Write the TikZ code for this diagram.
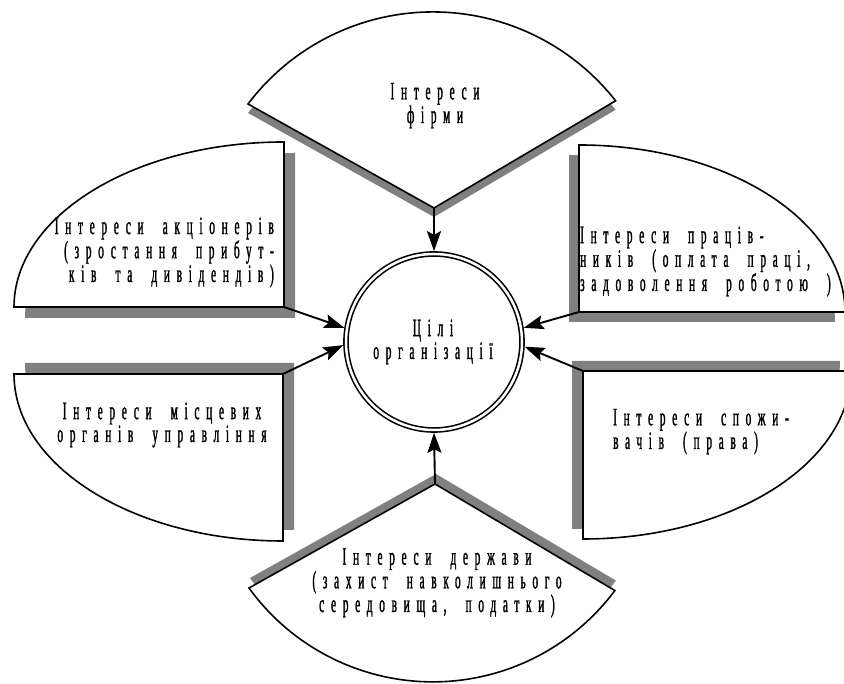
\documentclass[tikz,border=0pt]{standalone}
\usepackage{fontspec}
\newfontfamily\nf[FakeStretch=0.45,LetterSpace=27,WordSpace=2,FakeBold=1.2]{Liberation Serif}
\usetikzlibrary{arrows.meta}
\definecolor{shadowgray}{RGB}{128,128,128}
\begin{document}
\begin{tikzpicture}[x=1pt,y=1pt,
  sbox/.style={draw=black,fill=white,line width=1.6pt,line join=miter},
  shd/.style={fill=shadowgray},
  lbl/.style={font=\nf\fontsize{25}{21.5}\selectfont,inner sep=0pt,anchor=base},
  arr/.style={line width=1.9pt,-{Stealth[length=20pt,width=14pt,inset=3.5pt]}}
]
\useasboundingbox (0,0) rectangle (844,684);
\fill[white] (0,0) rectangle (844,684);

% shadows
\begin{scope}[shift={(0,-9)}]
\fill[shd] (434,476) -- (248,580) arc[start angle=142.9,end angle=38.1,radius=232] -- cycle;
\end{scope}
\begin{scope}[shift={(11,-11)}]
\fill[shd] (284,542) -- (284,377) -- (14,377) arc[start angle=180,end angle=90,x radius=270,y radius=165] -- cycle;
\end{scope}
\begin{scope}[shift={(11,11)}]
\fill[shd] (14,310) -- (283,310) -- (283,143) arc[start angle=270,end angle=180,x radius=269,y radius=167] -- cycle;
\end{scope}
\begin{scope}[shift={(-10,-10)}]
\fill[shd] (579,372) -- (579,539) arc[start angle=90,end angle=0,x radius=266,y radius=167] -- cycle;
\end{scope}
\begin{scope}[shift={(-11,10)}]
\fill[shd] (583,313) -- (583,145) arc[start angle=270,end angle=360,x radius=268,y radius=168] -- cycle;
\end{scope}
\begin{scope}[shift={(1,10)}]
\fill[shd] (435,200) -- (249,96) arc[start angle=215.9,end angle=323.3,radius=227] -- cycle;
\end{scope}

% shapes
\draw[sbox] (434,476) coordinate (tA) -- (248,580) arc[start angle=142.9,end angle=38.1,radius=232] -- cycle;
\draw[sbox] (284,542) -- (284,377) coordinate (tlC) -- (14,377) arc[start angle=180,end angle=90,x radius=270,y radius=165] -- cycle;
\draw[sbox] (14,310) -- (283,310) coordinate (blC) -- (283,143) arc[start angle=270,end angle=180,x radius=269,y radius=167] -- cycle;
\draw[sbox] (579,372) coordinate (trC) -- (579,539) arc[start angle=90,end angle=0,x radius=266,y radius=167] -- cycle;
\draw[sbox] (583,313) coordinate (brC) -- (583,145) arc[start angle=270,end angle=360,x radius=268,y radius=168] -- cycle;
\draw[sbox] (435,200) coordinate (bA) -- (249,96) arc[start angle=215.9,end angle=323.3,radius=227] -- cycle;

% centre
\node[circle,draw,fill=white,line width=1.6pt,double,double distance=2.5pt,minimum size=176pt,inner sep=0pt,outer sep=2.8pt] (c) at (434,342) {};
\node[lbl,align=center] (ct) at (433,325) {Цілі\\організації};

% labels (anchor at baseline of last line)
\node[lbl,align=center] (t1) at (435,561) {Інтереси\\фірми};
\node[lbl,align=right,anchor=base east] (t2) at (274,402) {Інтереси акціонерів\\(зростання прибут-\\ків та дивідендів)};
\node[lbl,align=left,anchor=base west] (t3) at (580,393) {Інтереси праців-\\ників (оплата праці,\\задоволення роботою )};
\node[lbl,align=center] (t4) at (162,242) {Інтереси місцевих\\органів управління};
\node[lbl,align=left,anchor=base west] (t5) at (613,235) {Інтереси спожи-\\вачів (права)};
\node[lbl,align=center] (t6) at (437,72) {Інтереси держави\\(захист навколишнього\\середовища, податки)};

% arrows
\draw[arr] (tA) -- (c.90);
\draw[arr] (bA) -- (c.270);
\draw[arr] (tlC) -- (c.171);
\draw[arr] (blC) -- (c.182);
\draw[arr] (trC) -- (c.9.5);
\draw[arr] (brC) -- (c.357.5);
\end{tikzpicture}
\end{document}
